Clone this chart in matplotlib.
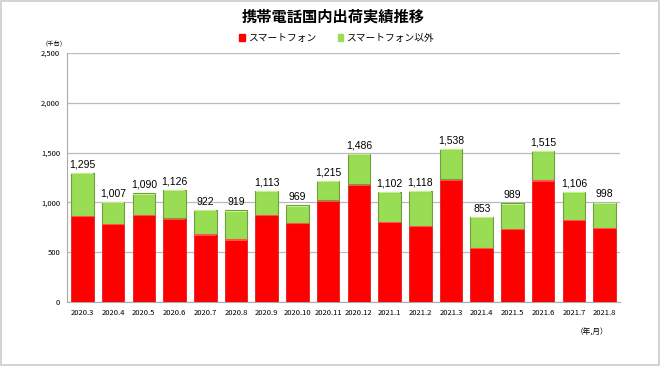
import matplotlib
matplotlib.use("Agg")
import matplotlib.pyplot as plt
from matplotlib.patches import Patch, Rectangle

plt.rcParams['font.family'] = ['Noto Sans CJK JP', 'DejaVu Sans']

months = ["2020.3", "2020.4", "2020.5", "2020.6", "2020.7", "2020.8", "2020.9",
          "2020.10", "2020.11", "2020.12", "2021.1", "2021.2", "2021.3", "2021.4",
          "2021.5", "2021.6", "2021.7", "2021.8"]
totals = [1295, 1007, 1090, 1126, 922, 919, 1113, 969, 1215, 1486, 1102, 1118,
          1538, 853, 989, 1515, 1106, 998]
smartphone = [867, 787, 873, 840, 680, 630, 873, 797, 1020, 1180, 807, 767,
              1230, 547, 737, 1223, 823, 747]
other = [t - s for t, s in zip(totals, smartphone)]

red = "#ff0000"
green = "#99dd55"

fig = plt.figure(figsize=(6.6, 3.66), dpi=100)
ax = fig.add_axes([67 / 660, 1 - 302 / 366, 553 / 660, 249 / 366])

x = range(len(months))
ax.bar(x, smartphone, width=0.735, color=red, edgecolor="#dd2222", linewidth=0.6, zorder=3)
ax.bar(x, other, width=0.735, bottom=smartphone, color=green, edgecolor="#6f9e3a",
       linewidth=0.8, zorder=3)
# thin lighter band at the top of each segment
ax.bar(x, [12] * len(months), width=0.71, bottom=[s - 14 for s in smartphone],
       color="#ff5050", linewidth=0, zorder=4)
ax.bar(x, [10] * len(months), width=0.71, bottom=[t - 12 for t in totals],
       color="#c8f08c", linewidth=0, zorder=4)

for i, t in enumerate(totals):
    ax.text(i, t + 35, f"{t:,}", ha="center", va="bottom", fontsize=7.5,
            family=["Liberation Sans", "DejaVu Sans"])

ax.set_xlim(-0.5, len(months) - 0.5)
ax.set_ylim(0, 2500)
ax.set_yticks(range(0, 2501, 500))
ax.set_yticklabels([f"{v:,}" for v in range(0, 2501, 500)], fontsize=5.5)
ax.set_xticks(list(x))
ax.set_xticklabels(months, fontsize=5.5)
ax.tick_params(length=0, pad=5)
ax.tick_params(axis="y", pad=5)
ax.grid(axis="y", color="#bbbbbb", linewidth=0.9, zorder=0)
for side in ["top", "right"]:
    ax.spines[side].set_visible(False)
ax.spines["left"].set_color("#aaaaaa")
ax.spines["bottom"].set_color("#aaaaaa")

fig.text(0.505, 1 - 17 / 366, "携帯電話国内出荷実績推移", ha="center", va="center",
         fontsize=11, fontweight="bold")
handles = [Patch(color=red), Patch(color=green)]
fig.legend(handles, ["スマートフォン", "スマートフォン以外"], loc="center",
           bbox_to_anchor=(0.51, 1 - 38 / 366), ncol=2, frameon=False, fontsize=7,
           handlelength=0.6, handleheight=0.6, handletextpad=0.3, columnspacing=2.2)
fig.text(54 / 660, 1 - 44 / 366, "（千台）", ha="center", va="center", fontsize=4.5)
fig.text(592 / 660, 1 - 333 / 366, "（年,月）", ha="center", va="center", fontsize=5.5)

fig.patches.append(Rectangle((0.002, 0.003), 0.996, 0.994, transform=fig.transFigure,
                             fill=False, edgecolor="#cccccc", linewidth=1.2))

fig.savefig("out.png", dpi=100)
